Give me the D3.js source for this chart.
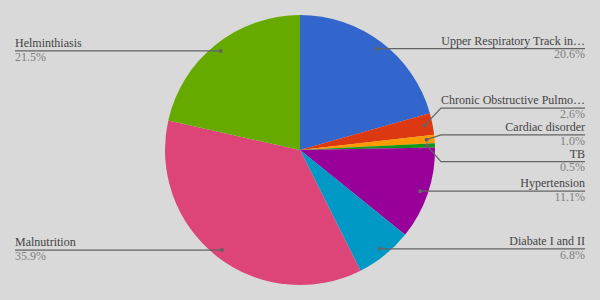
<!DOCTYPE html>
<html><head><meta charset="utf-8">
<script src="https://cdn.jsdelivr.net/npm/d3@7"></script>
<style>html,body{margin:0;padding:0;background:#d9d9d9;}svg{display:block;}
text{font-family:"Times New Roman","Liberation Serif",Tinos,"DejaVu Serif",serif;font-size:12px;}</style>
</head><body>
<svg id="c" width="600" height="300"></svg>
<script>
const categories = ["Upper Respiratory Track in\u2026","Chronic Obstructive Pulmo\u2026","Cardiac disorder","TB","Hypertension","Diabate I and II","Malnutrition","Helminthiasis"];
const values = [20.6, 2.6, 1.0, 0.5, 11.1, 6.8, 35.9, 21.5];
const colors = ["#3366cc","#dc3912","#ff9900","#109618","#990099","#0099c6","#dd4477","#66aa00"];

const W=600,H=300,cx=300,cy=150,R=135;
const svg=d3.select("#c");
svg.append("rect").attr("width",W).attr("height",H).attr("fill","#d9d9d9");
const data=categories.map((c,i)=>({name:c,value:values[i],color:colors[i]}));
const pie=d3.pie().value(d=>d.value).sort(null);
const arcs=pie(data);
const arc=d3.arc().innerRadius(0).outerRadius(R);
const g=svg.append("g").attr("transform",`translate(${cx},${cy})`);
g.selectAll("path").data(arcs).join("path").attr("d",arc).attr("fill",d=>d.data.color);

const total=d3.sum(values);
const fmt=d3.format(".1f");
const dotR=127;
const labels=arcs.map(a=>{
  const m=(a.startAngle+a.endAngle)/2;
  const x=cx+dotR*Math.sin(m), y=cy-dotR*Math.cos(m);
  return {a, x, y, side: x>=cx?"r":"l", ly:y};
});
const gap=26.8;
["r","l"].forEach(s=>{
  const L=labels.filter(d=>d.side===s).sort((p,q)=>p.y-q.y);
  let groups=L.map(d=>({items:[d],c:d.y}));
  let changed=true;
  while(changed){
    changed=false;
    for(let i=0;i<groups.length-1;i++){
      const A=groups[i],B=groups[i+1];
      const aEnd=A.c+(A.items.length-1)*gap/2;
      const bStart=B.c-(B.items.length-1)*gap/2;
      if(bStart-aEnd<gap){
        const items=A.items.concat(B.items);
        groups.splice(i,2,{items,c:d3.mean(items,d=>d.y)-2});
        changed=true;break;
      }
    }
  }
  groups.forEach(G=>{
    G.items.forEach((d,k)=>{d.ly=G.c+(k-(G.items.length-1)/2)*gap;});
  });
});

const lg=svg.append("g");
labels.forEach(d=>{
  const right=d.side==="r";
  const xEnd=right?585:15;
  const elbow=right?441:159;
  let pts;
  if(Math.abs(d.ly-d.y)>1.5) pts=[[d.x,d.y],[elbow,d.ly],[xEnd,d.ly]];
  else pts=[[d.x,d.ly],[xEnd,d.ly]];
  lg.append("path").attr("d",d3.line()(pts)).attr("fill","none").attr("stroke","#636363").attr("stroke-width",1.2);
  lg.append("circle").attr("cx",d.x).attr("cy",pts[0][1]).attr("r",2).attr("fill","#636363");
  lg.append("text").attr("x",xEnd).attr("y",d.ly-4)
    .attr("text-anchor",right?"end":"start")
    .attr("fill","#444").text(d.a.data.name);
  lg.append("text").attr("x",xEnd).attr("y",d.ly+9.8)
    .attr("text-anchor",right?"end":"start")
    .attr("fill","#808080").text(fmt(d.a.data.value/total*100)+"%");
});
</script>
</body></html>
